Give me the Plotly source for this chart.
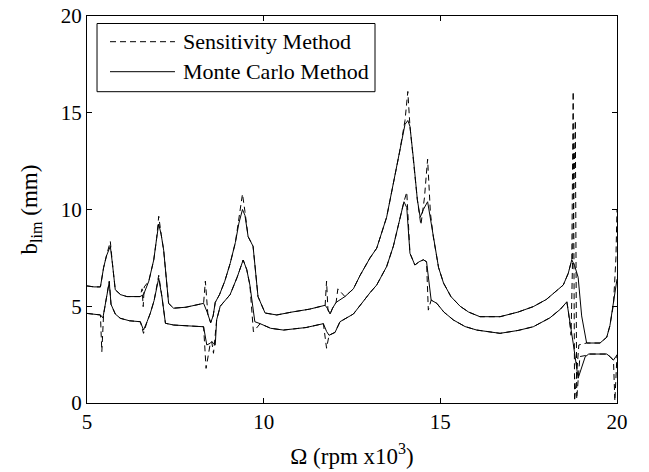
import plotly.graph_objects as go

# ---------------- data ----------------
mc_up_x = [5.0, 5.2, 5.38, 5.47, 5.55, 5.66, 5.72, 5.8, 5.95, 6.13, 6.5, 6.6, 6.75, 6.89, 6.97, 7.03,
           7.1, 7.17, 7.31, 7.45, 7.8, 8.1, 8.3, 8.4, 8.5, 8.57, 8.63, 8.75, 8.9, 9.05, 9.2, 9.3, 9.4,
           9.47, 9.56, 9.7, 9.84, 10.04, 10.37, 10.8, 11.3, 11.74, 11.8, 11.88, 11.95, 12.05, 12.3,
           12.54, 12.73, 13.01, 13.2, 13.48, 13.67, 13.85, 14.0, 14.08, 14.14, 14.24, 14.35, 14.43,
           14.52, 14.64, 14.72, 14.8, 14.95, 15.09, 15.3, 15.56, 15.8, 16.12, 16.69, 17.2, 17.63,
           18.0, 18.3, 18.48, 18.62, 18.72, 18.8, 18.9, 19.0, 19.14, 19.52, 19.71, 19.8, 19.9, 20.0]
mc_up_y = [6.05, 6.0, 6.0, 7.0, 7.6, 8.1, 7.2, 5.85, 5.6, 5.5, 5.5, 5.6, 6.3, 7.4, 8.5, 9.25,
           8.7, 7.9, 5.15, 4.9, 4.95, 5.05, 5.15, 4.7, 4.15, 4.5, 5.2, 5.6, 6.3, 7.2, 8.3, 9.3, 10.0,
           9.7, 8.6, 8.1, 5.5, 4.65, 4.55, 4.7, 4.85, 5.05, 4.9, 4.6, 4.9, 5.2, 5.5,
           5.9, 6.6, 7.5, 8.0, 9.6, 11.3, 13.0, 14.4, 14.6, 14.3, 12.6, 10.5, 9.6,
           10.0, 10.4, 9.5, 8.6, 7.0, 6.2, 5.5, 5.0, 4.7, 4.46, 4.46, 4.7, 4.98,
           5.35, 5.8, 6.1, 6.7, 7.4, 7.1, 6.5, 4.5, 3.1, 3.1, 3.4, 4.0, 5.1, 6.4]

mc_lo_x = [5.0, 5.2, 5.38, 5.45, 5.5, 5.56, 5.63, 5.68, 5.8, 5.94, 6.2, 6.51, 6.6, 6.7, 6.79, 6.9,
           7.03, 7.12, 7.22, 7.45, 7.9, 8.3, 8.39, 8.49, 8.53, 8.63, 8.67, 8.77, 9.05, 9.25, 9.42,
           9.52, 9.61, 9.75, 9.9, 10.2, 10.56, 11.2, 11.69, 11.78, 11.85, 12.02, 12.16, 12.54, 13.01,
           13.2, 13.48, 13.67, 13.97, 14.05, 14.14, 14.28, 14.4, 14.52, 14.61, 14.74, 14.9, 15.1,
           15.37, 15.7, 16.03, 16.69, 17.2, 17.63, 18.1, 18.4, 18.58, 18.62, 18.76, 18.9, 19.0, 19.1,
           19.2, 19.71, 19.8, 19.9, 20.0]
mc_lo_y = [4.63, 4.6, 4.55, 4.4, 4.9, 5.6, 6.25, 5.1, 4.6, 4.38, 4.25, 4.2, 3.77, 4.2, 4.63, 5.3,
           6.45, 5.5, 4.12, 4.03, 3.98, 3.94, 3.0, 3.09, 3.17, 3.0, 4.3, 5.0, 5.6, 6.5, 7.39,
           6.9, 6.1, 4.2, 4.1, 3.86, 3.77, 3.9, 4.1, 3.7, 3.5, 3.65, 4.2, 4.6, 5.7,
           6.1, 7.05, 8.1, 10.4, 10.1, 7.74, 7.13, 7.3, 7.4, 7.3, 5.32, 5.15, 4.7,
           4.29, 3.95, 3.77, 3.6, 3.75, 3.94, 4.4, 4.85, 5.23, 4.8, 3.09, 1.28, 1.8, 2.39,
           2.53, 2.53, 2.4, 2.22, 2.48]

se_up_x = [5.0, 5.2, 5.38, 5.47, 5.55, 5.66, 5.72, 5.8, 5.95, 6.13, 6.5, 6.56, 6.59, 6.62, 6.75, 6.89,
           6.97, 7.03, 7.1, 7.17, 7.31, 7.45, 7.8, 8.1, 8.3, 8.35, 8.42, 8.5, 8.57, 8.63, 8.75, 8.9,
           9.05, 9.2, 9.3, 9.4, 9.47, 9.56, 9.7, 9.84, 10.04, 10.37, 10.8, 11.3, 11.74, 11.78, 11.82,
           11.88, 11.95, 12.05, 12.1, 12.3, 12.54, 12.73, 13.01, 13.2, 13.48, 13.67, 13.85, 14.0,
           14.08, 14.14, 14.24, 14.35, 14.45, 14.55, 14.64, 14.72, 14.8, 14.95, 15.09, 15.3, 15.56,
           15.8, 16.12, 16.69, 17.2, 17.63, 18.0, 18.3, 18.48, 18.62, 18.72, 18.76, 18.8, 18.92,
           19.14, 19.52, 19.71, 19.8, 19.9, 19.97, 20.0]
se_up_y = [6.05, 6.0, 6.0, 7.0, 7.6, 8.35, 7.2, 5.85, 5.6, 5.5, 5.5, 5.9, 4.98, 6.0, 6.3, 7.4,
           8.5, 9.65, 8.7, 7.9, 5.15, 4.9, 4.95, 5.05, 5.15, 6.3, 4.6, 4.15, 4.5, 5.2, 5.6, 6.3,
           7.2, 8.3, 9.5, 10.8, 9.9, 8.6, 8.1, 5.5, 4.65, 4.55, 4.7, 4.85, 5.05, 6.3, 4.8,
           4.6, 4.9, 5.2, 5.9, 5.5, 5.9, 6.6, 7.5, 8.0, 9.6, 11.3, 13.0, 14.6,
           16.1, 14.3, 12.6, 10.5, 9.2, 10.6, 12.6, 9.8, 8.6, 7.0, 6.2, 5.5, 5.0,
           4.7, 4.46, 4.46, 4.7, 4.98, 5.35, 5.8, 6.1, 6.7, 7.4, 16.1, 0.1, 3.0,
           3.1, 3.1, 3.4, 4.0, 5.1, 7.5, 10.0]

se_lo_x = [5.0, 5.2, 5.38, 5.42, 5.47, 5.5, 5.56, 5.63, 5.68, 5.8, 5.94, 6.2, 6.51, 6.6, 6.7, 6.79,
           6.9, 7.03, 7.12, 7.22, 7.45, 7.9, 8.3, 8.37, 8.49, 8.53, 8.58, 8.67, 8.77, 9.05, 9.25,
           9.42, 9.52, 9.61, 9.71, 9.9, 10.2, 10.56, 11.2, 11.69, 11.78, 11.85, 12.02, 12.16, 12.54,
           13.01, 13.2, 13.48, 13.67, 13.97, 14.05, 14.14, 14.28, 14.4, 14.52, 14.61, 14.66, 14.74,
           14.9, 15.1, 15.37, 15.7, 16.03, 16.69, 17.2, 17.63, 18.1, 18.4, 18.58, 18.62, 18.7,
           18.82, 18.86, 18.95, 19.1, 19.2, 19.71, 19.8, 19.9, 19.94, 20.0]
se_lo_y = [4.63, 4.6, 4.55, 2.65, 4.6, 4.9, 5.6, 6.3, 5.1, 4.6, 4.38, 4.25, 4.2, 3.6, 4.2, 4.63,
           5.3, 6.6, 5.5, 4.12, 4.03, 3.98, 3.94, 1.79, 3.09, 3.17, 2.57, 4.3, 5.0, 5.6, 6.5,
           7.39, 6.9, 6.1, 3.68, 4.1, 3.86, 3.77, 3.9, 4.1, 2.83, 3.5, 3.65, 4.2, 4.6,
           5.7, 6.1, 7.05, 8.1, 10.4, 10.9, 7.74, 7.13, 7.3, 7.4, 7.3, 4.8, 5.32,
           5.15, 4.7, 4.29, 3.95, 3.77, 3.6, 3.75, 3.94, 4.4, 4.85, 5.23, 4.8, 3.5,
           14.6, 0.2, 2.4, 2.45, 2.53, 2.53, 2.4, 2.2, 0.1, 2.5]

x_ticks = [5, 10, 15, 20]
y_ticks = [0, 5, 10, 15, 20]
legend_names = ["Sensitivity Method", "Monte Carlo Method"]

FONT = "Liberation Serif, Times New Roman, serif"

fig = go.Figure()
solid = dict(color="black", width=1)
dashed = dict(color="black", width=1, dash="6px,4px")

fig.add_trace(go.Scatter(x=mc_up_x, y=mc_up_y, mode="lines", line=solid,
                         name=legend_names[1], showlegend=False))
fig.add_trace(go.Scatter(x=mc_lo_x, y=mc_lo_y, mode="lines", line=solid,
                         name=legend_names[1], showlegend=False))
fig.add_trace(go.Scatter(x=se_up_x, y=se_up_y, mode="lines", line=dashed,
                         name=legend_names[0], showlegend=False))
fig.add_trace(go.Scatter(x=se_lo_x, y=se_lo_y, mode="lines", line=dashed,
                         name=legend_names[0], showlegend=False))

axis_common = dict(
    showline=True, linecolor="black", linewidth=1, mirror="ticks",
    ticks="inside", ticklen=5, tickcolor="black", tickwidth=1,
    showgrid=False, zeroline=False, automargin=False,
    tickfont=dict(family=FONT, size=21, color="black"),
)

fig.update_xaxes(range=[5, 20], tickvals=x_ticks, ticktext=[str(v) for v in x_ticks],
                 title=dict(text="Ω (rpm x10<sup>3</sup>)", font=dict(family=FONT, size=23, color="black"),
                            standoff=14),
                 **axis_common)
fig.update_yaxes(range=[0, 20], tickvals=y_ticks, ticktext=[str(v) for v in y_ticks],
                 title=dict(text="b<sub>lim</sub> (mm)", font=dict(family=FONT, size=23, color="black"),
                            standoff=16),
                 **axis_common)

# manual legend (MATLAB style)
shapes = [
    dict(type="rect", xref="paper", yref="paper", x0=0.0189, x1=0.5434, y0=0.8044, y1=0.9806,
         line=dict(color="black", width=1), fillcolor="white", layer="above"),
    dict(type="line", xref="paper", yref="paper", x0=0.0434, x1=0.166, y0=0.9336, y1=0.9336,
         line=dict(color="black", width=1, dash="6px,4px"), layer="above"),
    dict(type="line", xref="paper", yref="paper", x0=0.0434, x1=0.166, y0=0.8561, y1=0.8561,
         line=dict(color="black", width=1), layer="above"),
]
annotations = [
    dict(xref="paper", yref="paper", x=0.177, y=0.9336, text=legend_names[0], showarrow=False,
         xanchor="left", yanchor="middle", font=dict(family=FONT, size=22, color="black")),
    dict(xref="paper", yref="paper", x=0.177, y=0.8561, text=legend_names[1], showarrow=False,
         xanchor="left", yanchor="middle", font=dict(family=FONT, size=22, color="black")),
]

fig.update_layout(
    width=649, height=472,
    margin=dict(l=87, r=32, t=16, b=69),
    paper_bgcolor="white", plot_bgcolor="white",
    shapes=shapes, annotations=annotations,
    showlegend=False,
    font=dict(family=FONT, color="black"),
)

fig.write_html("out.html")
